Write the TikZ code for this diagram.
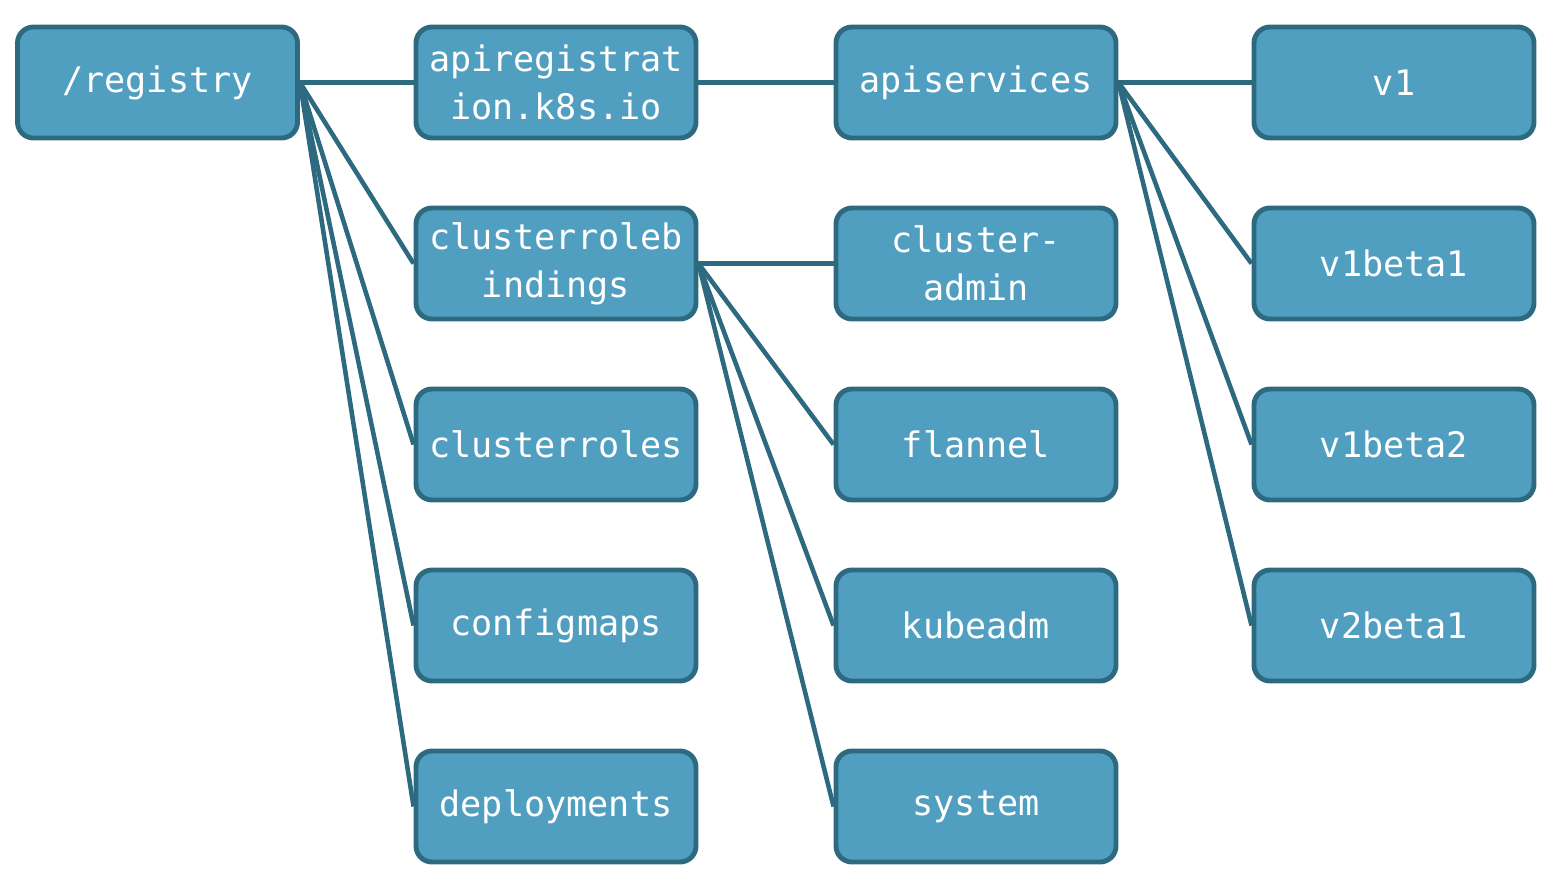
\documentclass[tikz,border=0pt]{standalone}
\usepackage{fontspec}
\setmonofont{DejaVu Sans Mono}
\usetikzlibrary{positioning}
\definecolor{boxfill}{HTML}{519FC0}
\definecolor{boxline}{HTML}{2E6A7F}
\tikzset{%
  every key/.style={
    rectangle,
    rounded corners=0.16cm,
    draw=boxline,
    line width=1.4pt,
    fill=boxfill,
    text=white,
    font=\ttfamily\fontsize{10}{13.6}\selectfont,
    align=center,
    minimum width=2.8cm,
    minimum height=1.11cm,
    inner sep=0pt
  },
  tree link/.style={
    draw=boxline,
    line width=1.3pt
  },
}
\begin{document}
\begin{tikzpicture}[on grid,node distance=1.81cm and 4.2cm]
  \useasboundingbox (0,0) rectangle (15.68,8.82);
  \node[every key] (reg) at (1.575,7.995) {/registry};
  \node[every key] (apireg) [right=3.985cm of reg] {apiregistrat\\ion.k8s.io};
  \node[every key] (crb) [below=of apireg] {clusterroleb\\indings};
  \node[every key] (cr) [below=of crb] {clusterroles};
  \node[every key] (cm) [below=of cr] {configmaps};
  \node[every key] (deploy) [below=of cm] {deployments};
  \node[every key] (apisvc) [right=of apireg] {apiservices};
  \node[every key] (admin) [below=of apisvc] {cluster-\\admin};
  \node[every key] (flannel) [below=of admin] {flannel};
  \node[every key] (kubeadm) [below=of flannel] {kubeadm};
  \node[every key] (system) [below=of kubeadm] {system};
  \node[every key] (v1) [right=4.18cm of apisvc] {v1};
  \node[every key] (v1b1) [below=of v1] {v1beta1};
  \node[every key] (v1b2) [below=of v1b1] {v1beta2};
  \node[every key] (v2b1) [below=of v1b2] {v2beta1};
  \path[tree link]
    (reg.east) edge (apireg.west)
               edge (crb.west)
               edge (cr.west)
               edge (cm.west)
               edge (deploy.west)
    (apireg.east) edge (apisvc.west)
    (apisvc.east) edge (v1.west)
                  edge (v1b1.west)
                  edge (v1b2.west)
                  edge (v2b1.west)
    (crb.east) edge (admin.west)
               edge (flannel.west)
               edge (kubeadm.west)
               edge (system.west)
    ;
\end{tikzpicture}
\end{document}
